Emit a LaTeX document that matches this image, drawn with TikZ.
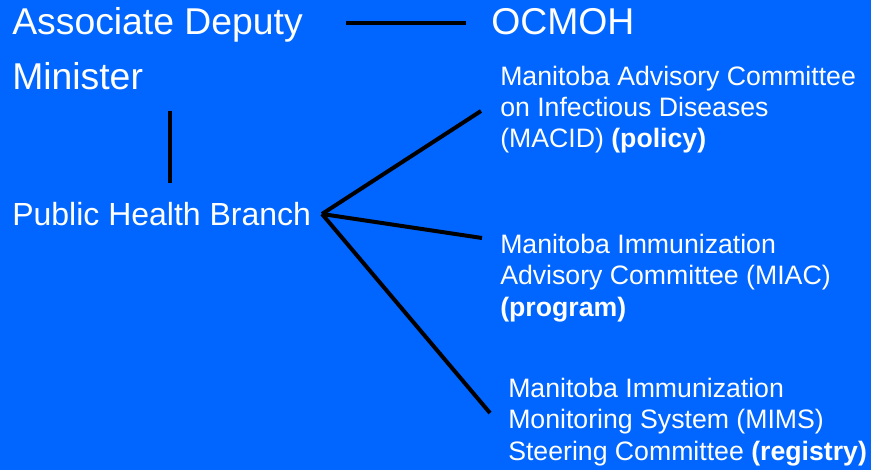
\documentclass[tikz,border=0pt]{standalone}
\usepackage{fontspec}
\setmainfont{Liberation Sans}
\definecolor{slideblue}{RGB}{0,102,255}

\tikzset{
  big/.style={anchor=base west, inner sep=0pt, text=white, font=\fontsize{28}{34}\selectfont},
  branch/.style={anchor=base west, inner sep=0pt, text=white, font=\fontsize{24}{29}\selectfont},
  cttee/.style={anchor=base west, inner sep=0pt, text=white, align=left, font=\fontsize{20}{23.6}\selectfont},
  link/.style={line width=3pt, black}
}

\begin{document}
\begin{tikzpicture}[x=0.75pt, y=-0.75pt]
\fill[slideblue] (0,0) rectangle (871,470);
\useasboundingbox (0,0) rectangle (871,470);

% top of the chart
\node[big] (adm) at (12,35) {Associate Deputy};
\node[big] (min) at (12,90) {Minister};
\node[big] (ocmoh) at (491,35) {OCMOH};
\coordinate (h1) at (346,23);
\coordinate (h2) at (466,23);
\draw[link] (h1) -- (h2);

\coordinate (v1) at (170,111);
\coordinate (v2) at (170,183);
\draw[link] (v1) -- (v2);

% branch and its committees (base = last line)
\node[branch] (phb) at (12,226) {Public Health Branch};
\coordinate (fan) at (322,214);

\node[cttee] (macid) at (500,148) {Manitoba Advisory Committee\\on Infectious Diseases\\(MACID) \textbf{(policy)}};
\node[cttee] (miac) at (500,316) {Manitoba Immunization\\Advisory Committee (MIAC)\\\textbf{(program)}};
\node[cttee] (mims) at (508,460) {Manitoba Immunization\\Monitoring System (MIMS)\\Steering Committee \textbf{(registry)}};

\coordinate (e1) at (481,111);
\coordinate (e2) at (482,238);
\coordinate (e3) at (490,413);
\draw[link] (fan) -- (e1);
\draw[link] (fan) -- (e2);
\draw[link] (fan) -- (e3);
\end{tikzpicture}
\end{document}
